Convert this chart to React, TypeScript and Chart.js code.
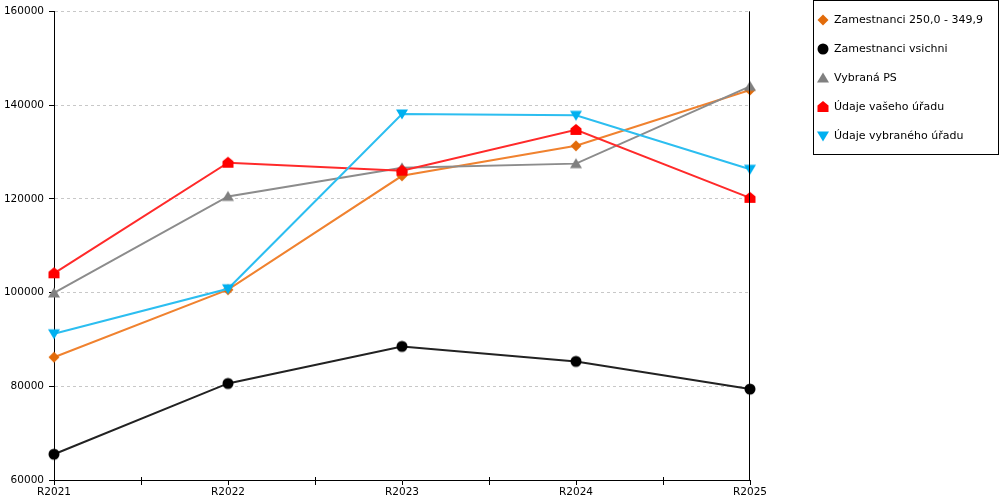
import { useEffect, useRef } from 'react';
import { Chart, registerables } from 'chart.js';

Chart.register(...registerables);

const categories = ['R2021', 'R2022', 'R2023', 'R2024', 'R2025'];
const zam250 = [86200, 100600, 124900, 131300, 143200];
const zamAll = [65500, 80600, 88500, 85300, 79400];
const vybranaPS = [99900, 120500, 126600, 127500, 144000];
const vasUrad = [104100, 127700, 126000, 134700, 120200];
const vybranyUrad = [91200, 100800, 138100, 137800, 126300];

const FONT = '"DejaVu Sans", Verdana, sans-serif';

// small canvas markers, used both on the lines and in the legend
function makeMarker(kind: string, color: string) {
  const s = 14;
  const m = s / 2;
  const c = document.createElement('canvas');
  c.width = s;
  c.height = s;
  const g = c.getContext('2d')!;
  g.fillStyle = color;
  g.beginPath();
  if (kind === 'diamond') {
    g.moveTo(m, m - 5.5);
    g.lineTo(m + 5.5, m);
    g.lineTo(m, m + 5.5);
    g.lineTo(m - 5.5, m);
  } else if (kind === 'circle') {
    g.arc(m, m, 5.5, 0, Math.PI * 2);
  } else if (kind === 'triUp') {
    g.moveTo(m, m - 5.5);
    g.lineTo(m + 6, m + 4.5);
    g.lineTo(m - 6, m + 4.5);
  } else if (kind === 'triDown') {
    g.moveTo(m - 6, m - 4.5);
    g.lineTo(m + 6, m - 4.5);
    g.lineTo(m, m + 5.5);
  } else {
    // house
    g.moveTo(m, m - 6);
    g.lineTo(m + 5.5, m - 1.5);
    g.lineTo(m + 5.5, m + 5);
    g.lineTo(m - 5.5, m + 5);
    g.lineTo(m - 5.5, m - 1.5);
  }
  g.closePath();
  g.fill();
  return c;
}

const extrasPlugin = {
  id: 'extras',
  afterDraw(chart: any) {
    const { ctx, chartArea } = chart;
    const x = chart.scales.x;
    ctx.save();
    ctx.strokeStyle = '#000';
    ctx.lineWidth = 1;
    // right frame line
    const rx = Math.round(chartArea.right) - 0.5;
    ctx.beginPath();
    ctx.moveTo(rx, chartArea.top);
    ctx.lineTo(rx, chartArea.bottom);
    ctx.stroke();
    // minor ticks between categories
    for (let i = 0; i < categories.length - 1; i++) {
      const mx = Math.round((x.getPixelForValue(i) + x.getPixelForValue(i + 1)) / 2) + 0.5;
      ctx.beginPath();
      ctx.moveTo(mx, chartArea.bottom - 3);
      ctx.lineTo(mx, chartArea.bottom + 5);
      ctx.stroke();
    }
    // legend box
    ctx.strokeRect(813.5, 0.5, 185, 154);
    ctx.font = '11px ' + FONT;
    ctx.fillStyle = '#000';
    ctx.textBaseline = 'middle';
    ctx.textAlign = 'left';
    chart.data.datasets.forEach((ds: any, i: number) => {
      const y = 20 + i * 29;
      ctx.drawImage(ds.pointStyle, 823 - 7, y - 7);
      ctx.fillText(ds.label, 834, y);
    });
    ctx.restore();
  },
};

export default function App() {
  const canvasRef = useRef<HTMLCanvasElement>(null);

  useEffect(() => {
    document.body.style.margin = '0';
    if (!canvasRef.current) return;

    const series = [
      { label: 'Zamestnanci 250,0 - 349,9', data: zam250, line: '#f0822f', mark: makeMarker('diamond', '#e26b0a'), order: 5 },
      { label: 'Zamestnanci vsichni', data: zamAll, line: '#222222', mark: makeMarker('circle', '#000000'), order: 4 },
      { label: 'Vybraná PS', data: vybranaPS, line: '#8c8c8c', mark: makeMarker('triUp', '#808080'), order: 3 },
      { label: 'Údaje vašeho úřadu', data: vasUrad, line: '#ff2a2a', mark: makeMarker('house', '#ff0000'), order: 2 },
      { label: 'Údaje vybraného úřadu', data: vybranyUrad, line: '#2cbef0', mark: makeMarker('triDown', '#00b0f0'), order: 1 },
    ];

    const chart = new Chart(canvasRef.current, {
      type: 'line',
      data: {
        labels: categories,
        datasets: series.map((s) => ({
          label: s.label,
          data: s.data,
          borderColor: s.line,
          backgroundColor: s.line,
          borderWidth: 2,
          tension: 0,
          pointStyle: s.mark as any,
          pointRadius: 6,
          pointHoverRadius: 6,
          order: s.order,
        })),
      },
      options: {
        animation: false,
        responsive: false,
        layout: { padding: { top: 10, right: 250, left: 0, bottom: 0 } },
        plugins: { legend: { display: false }, tooltip: { enabled: false } },
        scales: {
          x: {
            offset: false,
            afterFit: (scale: any) => {
              scale.height = 20;
            },
            grid: { drawOnChartArea: false, tickColor: '#000', tickLength: 5 },
            border: { color: '#000', width: 1 },
            ticks: { color: '#000', font: { family: FONT, size: 10.5 }, padding: 1, maxRotation: 0 },
          },
          y: {
            min: 60000,
            max: 160000,
            afterFit: (scale: any) => {
              scale.width = 54;
            },
            grid: { color: '#c8c8c8', tickColor: '#000', tickLength: 5, tickBorderDash: [] },
            border: { color: '#000', width: 1, dash: [3, 3] },
            ticks: {
              stepSize: 20000,
              color: '#000',
              font: { family: FONT, size: 10.5 },
              padding: 5,
              callback: (v: any) => String(v),
            },
          },
        },
      },
      plugins: [extrasPlugin],
    });

    return () => {
      chart.destroy();
    };
  }, []);

  return (
    <div style={{ width: 1000, height: 500, position: 'relative' }}>
      <canvas ref={canvasRef} width={1000} height={500} />
    </div>
  );
}
